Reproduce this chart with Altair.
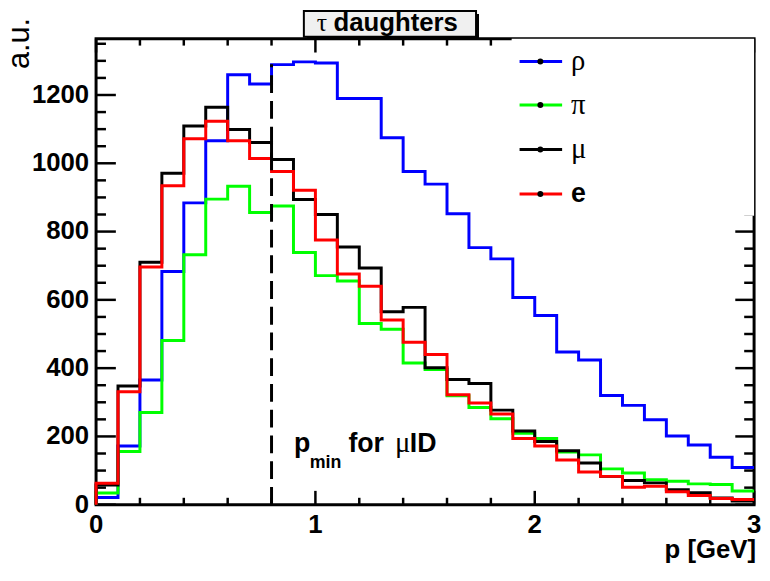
import altair as alt
import pandas as pd

# ---------------- data ----------------
edges = [round(i * 0.1, 1) for i in range(31)]          # bin edges, p [GeV]
names = ["ρ", "π", "μ", "e"]
colors = ["#0000ff", "#00ff00", "#000000", "#ff0000"]

rho = [21, 172, 365, 683, 884, 1066, 1259, 1232, 1289, 1297, 1294, 1190, 1190, 1075, 976,
       939, 852, 753, 720, 607, 554, 447, 424, 320, 291, 249, 201, 175, 139, 109]
pion = [34, 156, 270, 481, 732, 895, 933, 856, 875, 739, 671, 655, 531, 514, 415,
        396, 319, 285, 252, 209, 194, 154, 146, 105, 93, 73, 69, 61, 59, 40]
muon = [58, 348, 710, 971, 1109, 1164, 1099, 1061, 1011, 894, 850, 755, 693, 565, 578,
        401, 367, 355, 277, 216, 185, 158, 122, 83, 71, 64, 44, 35, 20, 11]
elec = [63, 331, 696, 934, 1072, 1123, 1066, 1014, 976, 921, 775, 676, 640, 541, 476,
        440, 322, 298, 266, 194, 172, 131, 96, 83, 51, 54, 38, 27, 18, 15]
series = [rho, pion, muon, elec]

y_major = [0, 200, 400, 600, 800, 1000, 1200]
y_minor = [v for v in range(50, 1351, 50) if v % 200 != 0]
x_major = [0, 1, 2, 3]
x_minor = [0.2, 0.4, 0.6, 0.8, 1.2, 1.4, 1.6, 1.8, 2.2, 2.4, 2.6, 2.8]
p_min = 0.8
cut_top = 1290
y_max = 1365

W, H = 665, 471
SANS = "Liberation Sans"
SERIF = "Liberation Serif"

xs = alt.Scale(domain=[0, 3], nice=False, zero=False)
ys = alt.Scale(domain=[0, y_max], nice=False, zero=False)

one = pd.DataFrame({"a": [0]})

layers = []

# frame
layers.append(alt.Chart(one).mark_rect(fillOpacity=0, stroke="black", strokeWidth=3).encode(
    x=alt.value(0), x2=alt.value(W), y=alt.value(0), y2=alt.value(H)))


def yticks(vals, x0, x1):
    return alt.Chart(pd.DataFrame({"v": vals})).mark_rule(color="black", strokeWidth=2.5).encode(
        y=alt.Y("v:Q", scale=ys, axis=None), x=alt.value(x0), x2=alt.value(x1))


def xticks(vals, y0, y1):
    return alt.Chart(pd.DataFrame({"v": vals})).mark_rule(color="black", strokeWidth=2.5).encode(
        x=alt.X("v:Q", scale=xs, axis=None), y=alt.value(y0), y2=alt.value(y1))


layers += [
    yticks(y_major, 0, 20), yticks(y_minor, 0, 10),
    yticks(y_major, W - 19, W), yticks(y_minor, W - 10, W),
    xticks(x_major, H - 14, H), xticks(x_minor, H - 7, H),
    xticks(x_major, 0, 14), xticks(x_minor, 0, 7),
]

# tick labels
ylab = pd.DataFrame({"v": y_major, "lab": [str(v) for v in y_major]})
layers.append(alt.Chart(ylab).mark_text(align="right", baseline="middle", font=SANS,
                                        fontWeight="bold", fontSize=26, color="black").encode(
    y=alt.Y("v:Q", scale=ys, axis=None), x=alt.value(-7), text="lab:N"))
xlab = pd.DataFrame({"v": x_major, "lab": [str(v) for v in x_major]})
layers.append(alt.Chart(xlab).mark_text(align="center", baseline="top", font=SANS,
                                        fontWeight="bold", fontSize=26, color="black").encode(
    x=alt.X("v:Q", scale=xs, axis=None), y=alt.value(H + 8), text="lab:N"))

# histograms
for name, col, vals in zip(names, colors, series):
    rows = [{"i": 0, "x": edges[0], "y": 0}]
    for j, v in enumerate(vals):
        rows.append({"i": j + 1, "x": edges[j], "y": v})
    rows.append({"i": len(vals) + 1, "x": edges[-1], "y": vals[-1]})
    df = pd.DataFrame(rows)
    layers.append(alt.Chart(df).mark_line(interpolate="step-after", color=col, strokeWidth=3,
                                          strokeJoin="miter").encode(
        x=alt.X("x:Q", scale=xs, axis=None),
        y=alt.Y("y:Q", scale=ys, axis=None),
        order="i:Q"))

# dashed p_min line
layers.append(alt.Chart(pd.DataFrame({"x": [p_min], "y0": [0], "y1": [cut_top]})).mark_rule(
    color="black", strokeWidth=3, strokeDash=[18, 8]).encode(
    x=alt.X("x:Q", scale=xs, axis=None),
    y=alt.Y("y0:Q", scale=ys, axis=None), y2="y1:Q"))

# legend box (white, covers frame corner)
layers.append(alt.Chart(one).mark_rect(fill="white").encode(
    x=alt.value(420), x2=alt.value(W), y=alt.value(0), y2=alt.value(179)))

leg_y = [23, 67, 112, 157]
for name, col, ly in zip(names, colors, leg_y):
    layers.append(alt.Chart(one).mark_rule(color=col, strokeWidth=3).encode(
        x=alt.value(428), x2=alt.value(471), y=alt.value(ly)))
    layers.append(alt.Chart(one).mark_circle(color="black", size=36, opacity=1).encode(
        x=alt.value(449), y=alt.value(ly)))
    is_greek = name != "e"
    layers.append(alt.Chart(one).mark_text(
        text=name, align="left", baseline="middle",
        font=SERIF if is_greek else SANS,
        fontWeight="normal" if is_greek else "bold",
        fontSize=29 if is_greek else 27, color="black").encode(
        x=alt.value(480), y=alt.value(ly)))

# title box with shadow
layers.append(alt.Chart(one).mark_rect(fill="black").encode(
    x=alt.value(213), x2=alt.value(387), y=alt.value(-25), y2=alt.value(1)))
layers.append(alt.Chart(one).mark_rect(fill="#f0f0f0", stroke="black", strokeWidth=2).encode(
    x=alt.value(210), x2=alt.value(384), y=alt.value(-28), y2=alt.value(-2)))
layers.append(alt.Chart(one).mark_text(text="τ", align="left", baseline="alphabetic",
                                       font=SERIF, fontSize=26, color="black").encode(
    x=alt.value(223), y=alt.value(-8)))
layers.append(alt.Chart(one).mark_text(text="daughters", align="left", baseline="alphabetic",
                                       font=SANS, fontWeight="bold", fontSize=26,
                                       color="black").encode(
    x=alt.value(240), y=alt.value(-8)))

# axis titles
layers.append(alt.Chart(one).mark_text(text="a.u.", align="right", baseline="alphabetic",
                                       angle=270, font=SANS, fontSize=31,
                                       color="black").encode(
    x=alt.value(-68), y=alt.value(-21)))
layers.append(alt.Chart(one).mark_text(text="p [GeV]", align="right", baseline="alphabetic",
                                       font=SANS, fontWeight="bold", fontSize=26,
                                       color="black").encode(
    x=alt.value(667), y=alt.value(525)))

# p_min annotation
ann = [("p", 200, 418, 27, SANS, "bold"),
       ("min", 216, 434, 18, SANS, "bold"),
       ("for", 255, 418, 27, SANS, "bold"),
       ("μ", 302, 418, 29, SERIF, "normal"),
       ("ID", 317, 418, 27, SANS, "bold")]
for txt, ax, ay, fs, fnt, fw in ann:
    layers.append(alt.Chart(one).mark_text(text=txt, align="left", baseline="alphabetic",
                                           font=fnt, fontWeight=fw, fontSize=fs,
                                           color="black").encode(
        x=alt.value(ax), y=alt.value(ay)))

chart = alt.layer(*layers).properties(
    width=W, height=H,
    padding={"left": 89, "top": 28, "right": 8, "bottom": 64},
    autosize=alt.AutoSizeParams(type="none"),
).configure_view(stroke=None)

chart.save("out.html", embed_options={"renderer": "svg", "actions": False})
